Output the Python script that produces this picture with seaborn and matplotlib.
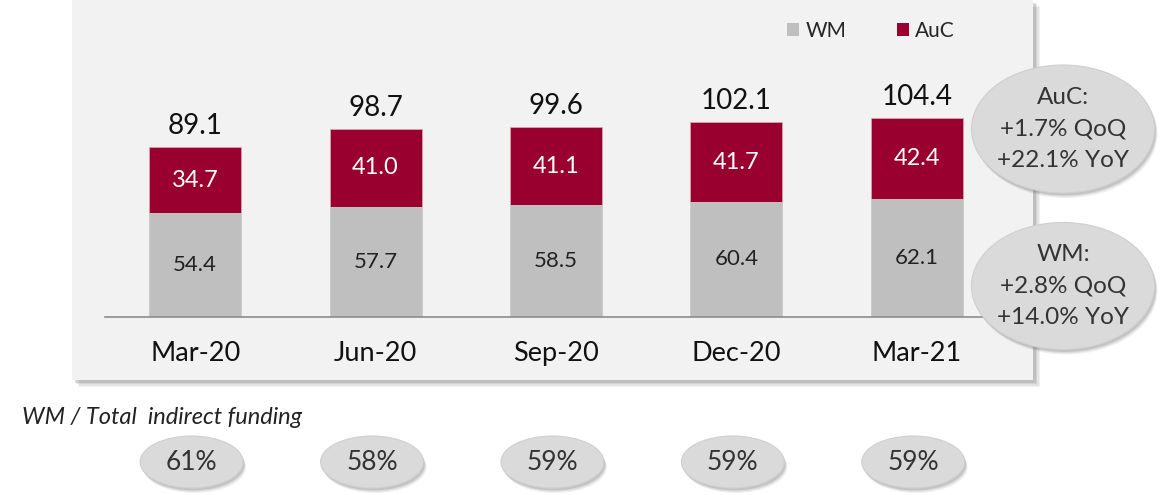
import numpy as np
import pandas as pd
import matplotlib
matplotlib.use("Agg")
import matplotlib.pyplot as plt
import seaborn as sns
from matplotlib.patches import Rectangle, Ellipse, Patch
from matplotlib.transforms import blended_transform_factory, ScaledTranslation

# Datos del gráfico
periods = ["Mar-20", "Jun-20", "Sep-20", "Dec-20", "Mar-21"]
wm = [54.4, 57.7, 58.5, 60.4, 62.1]
auc = [34.7, 41.0, 41.1, 41.7, 42.4]
totals = [89.1, 98.7, 99.6, 102.1, 104.4]
wm_share = ["61%", "58%", "59%", "59%", "59%"]
auc_note = ["AuC:", "+1.7% QoQ", "+22.1% YoY"]
wm_note = ["WM:", "+2.8% QoQ", "+14.0% YoY"]

WM_COLOR = "#bfbfbf"
AUC_COLOR = "#990030"
PANEL = "#f2f2f2"

sns.set_theme(style="white")
plt.rcParams["font.family"] = ["Lato", "DejaVu Sans"]

W, H = 1171, 495
fig = plt.figure(figsize=(W / 100, H / 100), dpi=100)
fig.patch.set_facecolor("white")


def px(x0, y0, w, h):
    """caja en píxeles (origen arriba-izquierda) -> fracción de figura"""
    return [x0 / W, 1 - (y0 + h) / H, w / W, h / H]


# fondo gris con sombra
bg = fig.add_axes([0, 0, 1, 1], zorder=0)
bg.set_xlim(0, W)
bg.set_ylim(H, 0)
bg.axis("off")
for i, a in enumerate([0.10, 0.12, 0.16, 0.22]):
    off = 7 - i * 1.5
    bg.add_patch(Rectangle((72 + off, 0 + off), 961, 380, color="#7f7f7f", alpha=a, lw=0))
bg.add_patch(Rectangle((72, 0), 961, 380, color=PANEL, lw=0))

# ejes principales
ax = fig.add_axes(px(105, 12, 902, 305), zorder=1)
ax.patch.set_alpha(0)

df = pd.DataFrame({"period": periods, "WM": wm, "AuC": auc, "total": totals})
sns.barplot(data=df, x="period", y="total", color=AUC_COLOR, saturation=1,
            width=0.51, ax=ax, edgecolor="#d9a0b0", linewidth=0.6)
sns.barplot(data=df, x="period", y="WM", color=WM_COLOR, saturation=1,
            width=0.51, ax=ax, edgecolor="#d0d0d0", linewidth=0.6)

ax.set_xlim(-0.5, len(periods) - 0.5)
ax.set_ylim(0, 160)
ax.set_xlabel("")
ax.set_ylabel("")
ax.set_yticks([])
for s in ["top", "right", "left"]:
    ax.spines[s].set_visible(False)
ax.spines["bottom"].set_color("#8c8c8c")
ax.spines["bottom"].set_linewidth(1.2)
ax.set_xticks(np.arange(len(periods)))
ax.set_xticklabels(periods, fontsize=19.5, color="#111111")
ax.set_xticks(np.arange(len(periods) + 1) - 0.5, minor=True)
ax.tick_params(axis="x", which="major", length=0, pad=17)
ax.tick_params(axis="x", which="minor", length=6, width=1.2, color="#8c8c8c", direction="out")

# etiquetas de valores
for i in range(len(periods)):
    ax.annotate(f"{totals[i]:.1f}", (i, totals[i]), xytext=(0, 6), textcoords="offset points",
                ha="center", va="bottom", fontsize=20, color="#111111")
    ax.text(i, wm[i] + auc[i] / 2, f"{auc[i]:.1f}", ha="center", va="center",
            fontsize=17, color="white")
    ax.text(i, wm[i] / 2, f"{wm[i]:.1f}", ha="center", va="center",
            fontsize=16, color="#222222")

handles = [Patch(facecolor=WM_COLOR, edgecolor="none", label="WM"),
           Patch(facecolor=AUC_COLOR, edgecolor="none", label="AuC")]
fig.legend(handles=handles, loc="center", bbox_to_anchor=(871 / W, 1 - 31 / H), ncol=2,
           frameon=False, fontsize=15, handlelength=0.6, handleheight=0.6,
           handletextpad=0.3, columnspacing=2.4)


def bubble(axis, xy, w, h, transform, lines, size, step):
    for i, a in enumerate([0.10, 0.15, 0.22]):
        off = 5 - i * 1.3
        sh = transform + ScaledTranslation(off / 100 * 0.6, -off / 100, fig.dpi_scale_trans)
        axis.add_patch(Ellipse(xy, w, h, transform=sh, color="#6e6e6e", alpha=a, lw=0,
                               clip_on=False, zorder=4))
    axis.add_patch(Ellipse(xy, w, h, transform=transform, facecolor="#dadada",
                           edgecolor="#cfcfcf", lw=0.8, clip_on=False, zorder=5))
    n = len(lines)
    for k, t in enumerate(lines):
        dy = (k - (n - 1) / 2) * step
        axis.text(xy[0], xy[1], t, transform=transform + ScaledTranslation(0, -dy / 72, fig.dpi_scale_trans),
                  ha="center", va="center", fontsize=size, color="#333333", zorder=6, clip_on=False)


# notas a la derecha
ov = fig.add_axes([0, 0, 1, 1], zorder=2)
ov.set_xlim(0, W)
ov.set_ylim(H, 0)
ov.axis("off")
bubble(ov, (1063, 129), 183, 128, ov.transData, auc_note, 17.5, 23)
bubble(ov, (1063, 286), 183, 127, ov.transData, wm_note, 17.5, 23)

# ratio WM / total
fig.text(22 / W, 1 - 418 / H, "WM / Total  indirect funding", fontsize=17, style="italic",
         color="#222222", ha="left", va="center")
tr = blended_transform_factory(ax.transData, fig.transFigure)
for i, lab in enumerate(wm_share):
    bubble(ax, (i - 0.02, 1 - 462 / H), 0.57, 52 / H, tr, [lab], 19, 0)

fig.savefig("out.png", dpi=100)
